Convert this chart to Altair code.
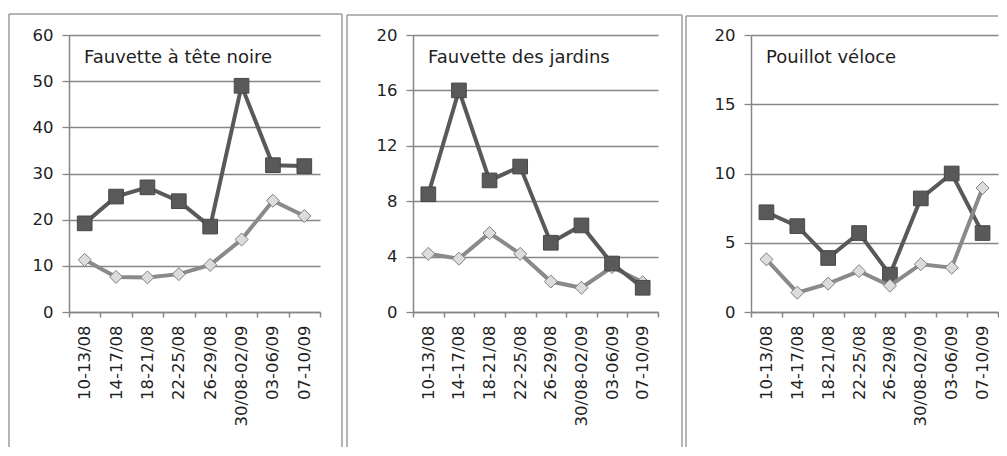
import altair as alt
import pandas as pd

categories = ["10-13/08", "14-17/08", "18-21/08", "22-25/08",
              "26-29/08", "30/08-02/09", "03-06/09", "07-10/09"]

titles = ["Fauvette à tête noire", "Fauvette des jardins", "Pouillot véloce"]

dark_1 = [19.2, 25.0, 27.0, 24.0, 18.5, 49.0, 31.8, 31.6]
light_1 = [11.3, 7.6, 7.5, 8.2, 10.2, 15.7, 24.1, 20.8]

dark_2 = [8.5, 16.0, 9.5, 10.5, 5.0, 6.25, 3.5, 1.75]
light_2 = [4.2, 3.85, 5.7, 4.2, 2.2, 1.75, 3.25, 2.15]

dark_3 = [7.2, 6.2, 3.9, 5.7, 2.7, 8.2, 10.0, 5.7]
light_3 = [3.8, 1.4, 2.05, 2.95, 1.9, 3.45, 3.2, 8.95]

y_max = [60, 20, 20]
y_ticks = [[0, 10, 20, 30, 40, 50, 60], [0, 4, 8, 12, 16, 20], [0, 5, 10, 15, 20]]

FONT = "DejaVu Sans"
GRID = "#868686"
FRAME = "#9c9c9c"


def panel(title, dark, light, ymax, ticks, width, fl, fr, ft, light_on_top, draw_right=True):
    df_dark = pd.DataFrame({"période": categories, "valeur": dark})
    df_light = pd.DataFrame({"période": categories, "valeur": light})
    one = pd.DataFrame({"k": [0]})

    x = alt.X("période:N", sort=categories, bandPosition=0.5,
              scale=alt.Scale(type="band", paddingInner=0, paddingOuter=0),
              axis=alt.Axis(labelAngle=270, tickBand="extent", grid=False,
                            tickSize=5, labelPadding=8, labelFontSize=16.5,
                            labelFont=FONT, labelColor="#1e1e1e",
                            domainColor=GRID, domainWidth=1.5,
                            tickColor=GRID, tickWidth=1.5),
              title=None)
    y = alt.Y("valeur:Q", scale=alt.Scale(domain=[0, ymax], nice=False, zero=True),
              axis=alt.Axis(values=ticks, grid=True, gridColor=GRID, gridWidth=1.3,
                            tickSize=7, labelPadding=9, labelFontSize=16.5,
                            labelFont=FONT, labelColor="#1e1e1e",
                            domainColor=GRID, domainWidth=1.5,
                            tickColor=GRID, tickWidth=1.3, format="d"),
              title=None)

    dark_line = alt.Chart(df_dark).mark_line(color="#595959", strokeWidth=4).encode(x=x, y=y)
    dark_pts = alt.Chart(df_dark).mark_point(
        shape="square", filled=True, size=215, fill="#595959",
        stroke="#474747", strokeWidth=1, opacity=1).encode(x=x, y=y)
    light_line = alt.Chart(df_light).mark_line(color="#8a8a8a", strokeWidth=4).encode(x=x, y=y)
    light_pts = alt.Chart(df_light).mark_point(
        shape="diamond", filled=True, size=170, fill="#dcdcdc",
        stroke="#7f7f7f", strokeWidth=1, opacity=1).encode(x=x, y=y)

    txt = alt.Chart(one).mark_text(
        text=title, align="left", baseline="middle", fontSize=18,
        font=FONT, color="#1e1e1e").encode(x=alt.value(15), y=alt.value(23))

    frame_parts = [
        alt.Chart(one).mark_rule(color=FRAME, strokeWidth=1.5).encode(
            x=alt.value(fl), y=alt.value(ft), y2=alt.value(412)),
        alt.Chart(one).mark_rule(color=FRAME, strokeWidth=1.5).encode(
            x=alt.value(fl), x2=alt.value(fr), y=alt.value(ft)),
    ]
    if draw_right:
        frame_parts.append(
            alt.Chart(one).mark_rule(color=FRAME, strokeWidth=1.5).encode(
                x=alt.value(fr), y=alt.value(ft), y2=alt.value(412)))

    if light_on_top:
        series = [dark_line, dark_pts, light_line, light_pts]
    else:
        series = [light_line, light_pts, dark_line, dark_pts]

    return alt.layer(*frame_parts, *series, txt).properties(width=width, height=277)


p1 = panel(titles[0], dark_1, light_1, y_max[0], y_ticks[0], 251, -60, 273, -21, False)
p2 = panel(titles[1], dark_2, light_2, y_max[1], y_ticks[1], 245, -66, 269, -20, False)
p3 = panel(titles[2], dark_3, light_3, y_max[2], y_ticks[2], 247, -65, 247, -19, True, draw_right=False)

chart = alt.hconcat(p1, p2, p3, spacing=93, bounds="flush").properties(
    padding={"left": 0, "top": 5, "right": 0, "bottom": 0}
).configure_view(strokeWidth=0)

chart.save("out.html", embed_options={"renderer": "svg", "actions": False})
